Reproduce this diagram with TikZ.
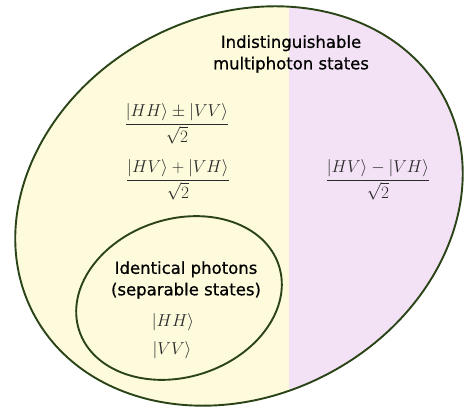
\documentclass[tikz,border=0pt]{standalone}
\usepackage{fontspec}
\setsansfont{DejaVu Sans}
\newfontfamily\titlefont[FakeBold=0.7]{DejaVu Sans}
\usepackage{amsmath}
\definecolor{yel}{HTML}{FEFADC}
\definecolor{pur}{HTML}{F3E2F5}
\definecolor{rim}{HTML}{2A4418}
\definecolor{mathc}{HTML}{2A2A2A}
\begin{document}
\begin{tikzpicture}[x=1pt,y=-1pt,
  rimline/.style={draw=rim,line width=1.9pt},
  title/.style={font=\titlefont\fontsize{16.5}{21.5}\selectfont,text=black,align=center,inner sep=0pt},
  eq/.style={font=\fontsize{16.5}{20}\selectfont,text=mathc,inner sep=0pt}]
\useasboundingbox (0,0) rectangle (464,409);
\coordinate (oc) at (239,206);
\coordinate (ic) at (179,298);
\begin{scope}
  \clip[rotate around={27.5:(oc)}] (oc) ellipse [x radius=232, y radius=190];
  \fill[yel] (0,0) rectangle (289,409);
  \fill[pur] (289,0) rectangle (464,409);
\end{scope}
\draw[rimline,rotate around={27.5:(oc)}] (oc) ellipse [x radius=232, y radius=190];
\draw[rimline,rotate around={18:(ic)}] (ic) ellipse [x radius=105, y radius=79];
\node[title] (t1) at (291,54) {Indistinguishable\\multiphoton states};
\node[title] (t2) at (186,280) {Identical photons\\(separable states)};
\node[eq] (e1) at (177,124) {$\dfrac{|HH\rangle\pm|VV\rangle}{\sqrt{2}}$};
\node[eq] (e2) at (178,180) {$\dfrac{|HV\rangle+|VH\rangle}{\sqrt{2}}$};
\node[eq] (e3) at (378,180) {$\dfrac{|HV\rangle-|VH\rangle}{\sqrt{2}}$};
\node[eq] (k1) at (173,322) {$|HH\rangle$};
\node[eq] (k2) at (172,350) {$|VV\rangle$};
\end{tikzpicture}
\end{document}
